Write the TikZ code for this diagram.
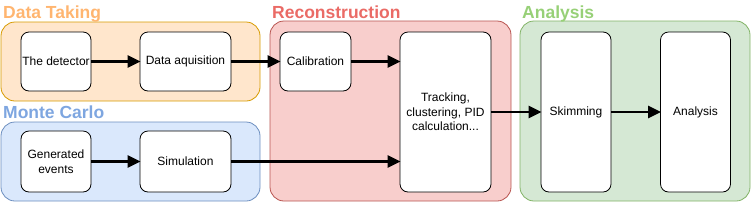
\documentclass[tikz,border=0pt]{standalone}
\usepackage{fontspec}
\setmainfont{Liberation Sans}
\usetikzlibrary{arrows.meta,positioning}
\definecolor{dtfill}{HTML}{FFE6CC}\definecolor{dtdraw}{HTML}{D79B00}\definecolor{dttext}{HTML}{FFB570}
\definecolor{mcfill}{HTML}{DAE8FC}\definecolor{mcdraw}{HTML}{6C8EBF}\definecolor{mctext}{HTML}{7EA6E0}
\definecolor{rcfill}{HTML}{F8CECC}\definecolor{rcdraw}{HTML}{B85450}\definecolor{rctext}{HTML}{EA6B66}
\definecolor{anfill}{HTML}{D5E8D4}\definecolor{andraw}{HTML}{82B366}\definecolor{antext}{HTML}{97D077}
\begin{document}
\begin{tikzpicture}[x=1pt,y=-1pt,
  container/.style={draw, line width=0.8pt, rounded corners=14pt, inner sep=0pt, outer sep=0pt},
  stage/.style={draw=black, fill=white, line width=0.8pt, rounded corners=8pt, inner sep=1pt, outer sep=0pt,
    align=center, font=\fontsize{12}{14.7}\selectfont},
  title/.style={anchor=base west, inner sep=0pt, font=\fontsize{17.5}{17.5}\selectfont\bfseries},
  flow/.style={line width=2.8pt, -{Triangle[length=13pt,width=12pt]}, shorten >=-0.5pt}]
\useasboundingbox (0,0) rectangle (751,202);
% containers
\draw[container, fill=dtfill, draw=dtdraw] (1,22) rectangle (260,101) coordinate (dtc);
\draw[container, fill=mcfill, draw=mcdraw] (1,122) rectangle (260,201) coordinate (mcc);
\draw[container, fill=rcfill, draw=rcdraw] (270,21) rectangle (511,201) coordinate (rcc);
\draw[container, fill=anfill, draw=andraw] (520,21) rectangle (750,201) coordinate (anc);
% titles
\node[title, text=dttext] (tdt) at (3,18) {Data Taking};
\node[title, text=mctext] (tmc) at (3,118) {Monte Carlo};
\node[title, text=rctext] (trc) at (272,18) {Reconstruction};
\node[title, text=antext] (tan) at (522,18) {Analysis};
% stages
\node[stage, minimum width=70pt, minimum height=59pt] (det) at (56,61.5) {The detector};
\node[stage, minimum width=91pt, minimum height=59pt] (daq) at (185.5,61.5) {Data aquisition};
\node[stage, minimum width=70pt, minimum height=61pt] (gen) at (56,161.5) {Generated\\events};
\node[stage, minimum width=91pt, minimum height=61pt] (sim) at (185.5,161.5) {Simulation};
\node[stage, minimum width=71pt, minimum height=59pt] (cal) at (315.5,61.5) {Calibration};
\node[stage, minimum width=91pt, minimum height=160pt] (trk) at (445.5,112) {Tracking,\\clustering, PID\\calculation...};
\node[stage, minimum width=70pt, minimum height=160pt] (skm) at (576,112) {Skimming};
\node[stage, minimum width=70pt, minimum height=160pt] (ana) at (695.5,112) {Analysis};
% flows
\draw[flow] (det) -- (daq);
\draw[flow] (daq) -- (cal);
\draw[flow] (cal.east) -- (cal.east -| trk.west);
\draw[flow] (gen) -- (sim);
\draw[flow] (sim.east) -- (sim.east -| trk.west);
\draw[flow] (trk) -- (skm);
\draw[flow] (skm) -- (ana);
\end{tikzpicture}
\end{document}
